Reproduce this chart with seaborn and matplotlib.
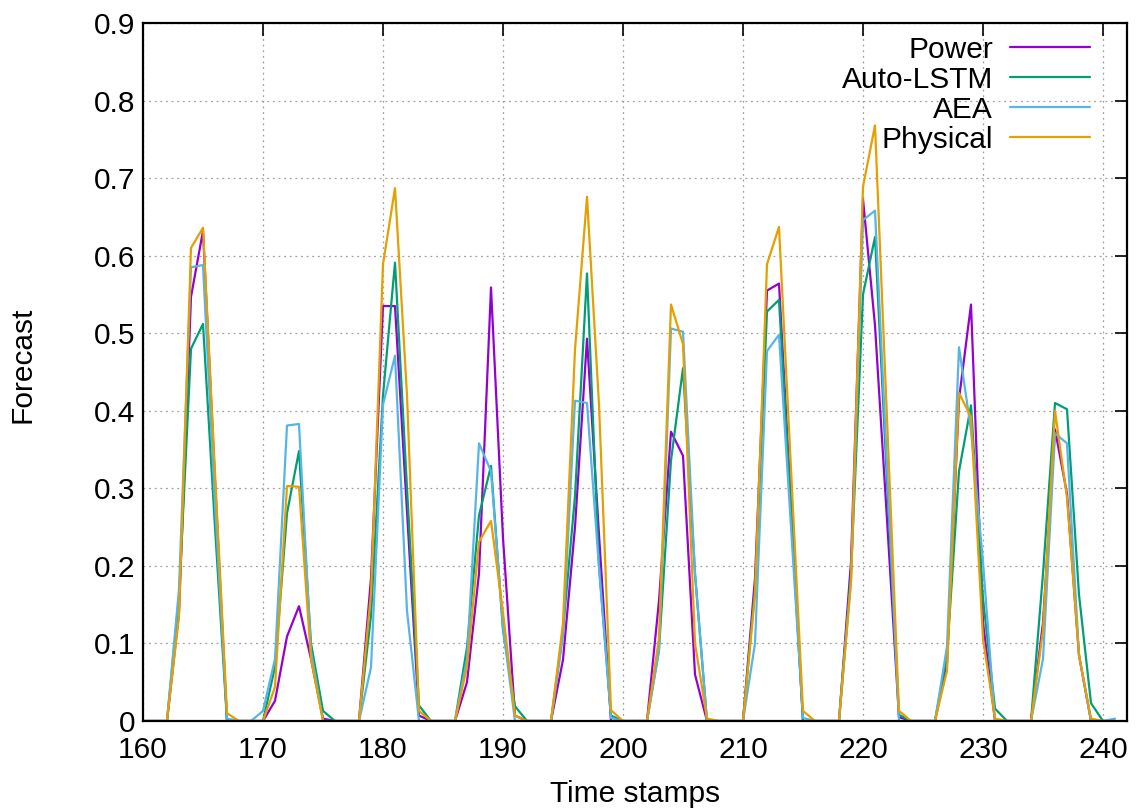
import numpy as np
import pandas as pd
import matplotlib
matplotlib.use("Agg")
import matplotlib.pyplot as plt
import seaborn as sns

# ---- data ----
time_stamps = list(range(160, 242))

power = [0, 0, 0, 0.14, 0.547, 0.632, 0.31, 0, 0, 0,
         0, 0.026, 0.109, 0.148, 0.08, 0.003, 0, 0, 0, 0.184,
         0.535, 0.535, 0.27, 0.007, 0, 0, 0, 0.05, 0.19, 0.559,
         0.236, 0.007, 0, 0, 0, 0.079, 0.25, 0.493, 0.24, 0,
         0, 0, 0, 0.155, 0.373, 0.342, 0.06, 0, 0, 0,
         0, 0.184, 0.555, 0.564, 0.28, 0, 0, 0, 0, 0.205,
         0.673, 0.51, 0.26, 0.005, 0, 0, 0, 0.075, 0.415, 0.537,
         0.127, 0, 0, 0, 0, 0.127, 0.376, 0.293, 0.085, 0,
         0, 0]
auto_lstm = [0, 0, 0, 0.16, 0.48, 0.512, 0.25, 0, 0, 0,
             0, 0.07, 0.268, 0.348, 0.1, 0.013, 0, 0, 0, 0.136,
             0.42, 0.591, 0.30, 0.02, 0, 0, 0, 0.095, 0.265, 0.329,
             0.117, 0.019, 0, 0, 0, 0.117, 0.29, 0.577, 0.2, 0.007,
             0, 0, 0, 0.093, 0.336, 0.455, 0.19, 0, 0, 0,
             0, 0.17, 0.528, 0.543, 0.27, 0, 0, 0, 0, 0.19,
             0.55, 0.624, 0.31, 0.008, 0, 0, 0, 0.085, 0.322, 0.407,
             0.158, 0.016, 0, 0, 0, 0.19, 0.41, 0.402, 0.163, 0.023,
             0, 0]
aea = [0, 0, 0, 0.17, 0.585, 0.588, 0.28, 0.003, 0, 0,
       0.013, 0.08, 0.381, 0.383, 0.09, 0, 0, 0, 0, 0.069,
       0.408, 0.471, 0.142, 0, 0, 0, 0, 0.08, 0.358, 0.322,
       0.12, 0, 0, 0, 0, 0.11, 0.413, 0.41, 0.198, 0.004,
       0, 0, 0, 0.09, 0.506, 0.502, 0.19, 0, 0, 0,
       0, 0.1, 0.477, 0.498, 0.25, 0.004, 0, 0, 0, 0.18,
       0.646, 0.658, 0.33, 0, 0, 0, 0, 0.096, 0.482, 0.375,
       0.205, 0, 0, 0, 0, 0.08, 0.371, 0.358, 0.085, 0,
       0, 0.003]
physical = [0, 0, 0, 0.135, 0.61, 0.636, 0.32, 0.01, 0, 0,
            0, 0.044, 0.303, 0.302, 0.08, 0, 0, 0, 0, 0.165,
            0.589, 0.687, 0.42, 0.013, 0, 0, 0, 0.07, 0.231, 0.258,
            0.14, 0.007, 0, 0, 0, 0.126, 0.479, 0.676, 0.408, 0.014,
            0, 0, 0, 0.107, 0.537, 0.486, 0.1, 0.003, 0, 0,
            0, 0.163, 0.589, 0.637, 0.325, 0.013, 0, 0, 0, 0.18,
            0.689, 0.768, 0.39, 0.013, 0, 0, 0, 0.065, 0.423, 0.392,
            0.106, 0.003, 0, 0, 0, 0.117, 0.4, 0.288, 0.085, 0.003,
            0, 0]

series_names = ["Power", "Auto-LSTM", "AEA", "Physical"]
colors = ["#9400D3", "#009E73", "#56B4E9", "#E69F00"]
x_ticks = [160, 170, 180, 190, 200, 210, 220, 230, 240]
y_ticks = [0, 0.1, 0.2, 0.3, 0.4, 0.5, 0.6, 0.7, 0.8, 0.9]
y_tick_labels = ["0", "0.1", "0.2", "0.3", "0.4", "0.5", "0.6", "0.7", "0.8", "0.9"]

values = [power, auto_lstm, aea, physical]
df = pd.DataFrame({
    "t": time_stamps * 4,
    "value": sum(values, []),
    "series": sum([[n] * len(time_stamps) for n in series_names], []),
})

# ---- style ----
sns.set_theme(style="white")
plt.rcParams["font.family"] = ["Liberation Sans", "DejaVu Sans"]
plt.rcParams["text.color"] = "black"
plt.rcParams["axes.labelcolor"] = "black"
plt.rcParams["xtick.color"] = "black"
plt.rcParams["ytick.color"] = "black"
FS = 21.5

fig = plt.figure(figsize=(11.37, 8.10), dpi=100)
ax = fig.add_axes([143 / 1137, 1 - 721 / 810, (1127 - 143) / 1137, (721 - 23) / 810])

sns.lineplot(data=df, x="t", y="value", hue="series", hue_order=series_names,
             palette=colors, linewidth=1.6, errorbar=None, sort=False, ax=ax)

ax.set_xlim(160, 242)
ax.set_ylim(0, 0.9)
ax.set_xticks(x_ticks)
ax.set_yticks(y_ticks)
ax.set_yticklabels(y_tick_labels)

ax.grid(True, linestyle=(0, (1.5, 3)), color="#a0a0a0", linewidth=0.9)
ax.set_axisbelow(True)

for sp in ax.spines.values():
    sp.set_color("black")
    sp.set_linewidth(1.6)

ax.tick_params(axis="both", which="major", direction="in", length=9, width=1.2,
               top=True, right=True, labelsize=FS, colors="black")
ax.tick_params(axis="x", pad=10.5)
ax.tick_params(axis="y", pad=5.5)

ax.set_xlabel("Time stamps", fontsize=FS, color="black")
ax.set_ylabel("Forecast", fontsize=FS, color="black")
ax.xaxis.set_label_coords(0.5, -0.085)
ax.yaxis.set_label_coords(-0.108, 0.51)

handles, labels = ax.get_legend_handles_labels()
leg = ax.legend(handles, labels, loc="upper right", frameon=False, markerfirst=False,
                fontsize=FS, handlelength=2.68, handletextpad=0.57, labelspacing=0.07,
                borderaxespad=0, borderpad=0, bbox_to_anchor=(0.9624, 0.982))
for t in leg.get_texts():
    t.set_ha("right")
    t.set_color("black")
leg._legend_box.align = "right"

fig.savefig("out.png", dpi=100)
